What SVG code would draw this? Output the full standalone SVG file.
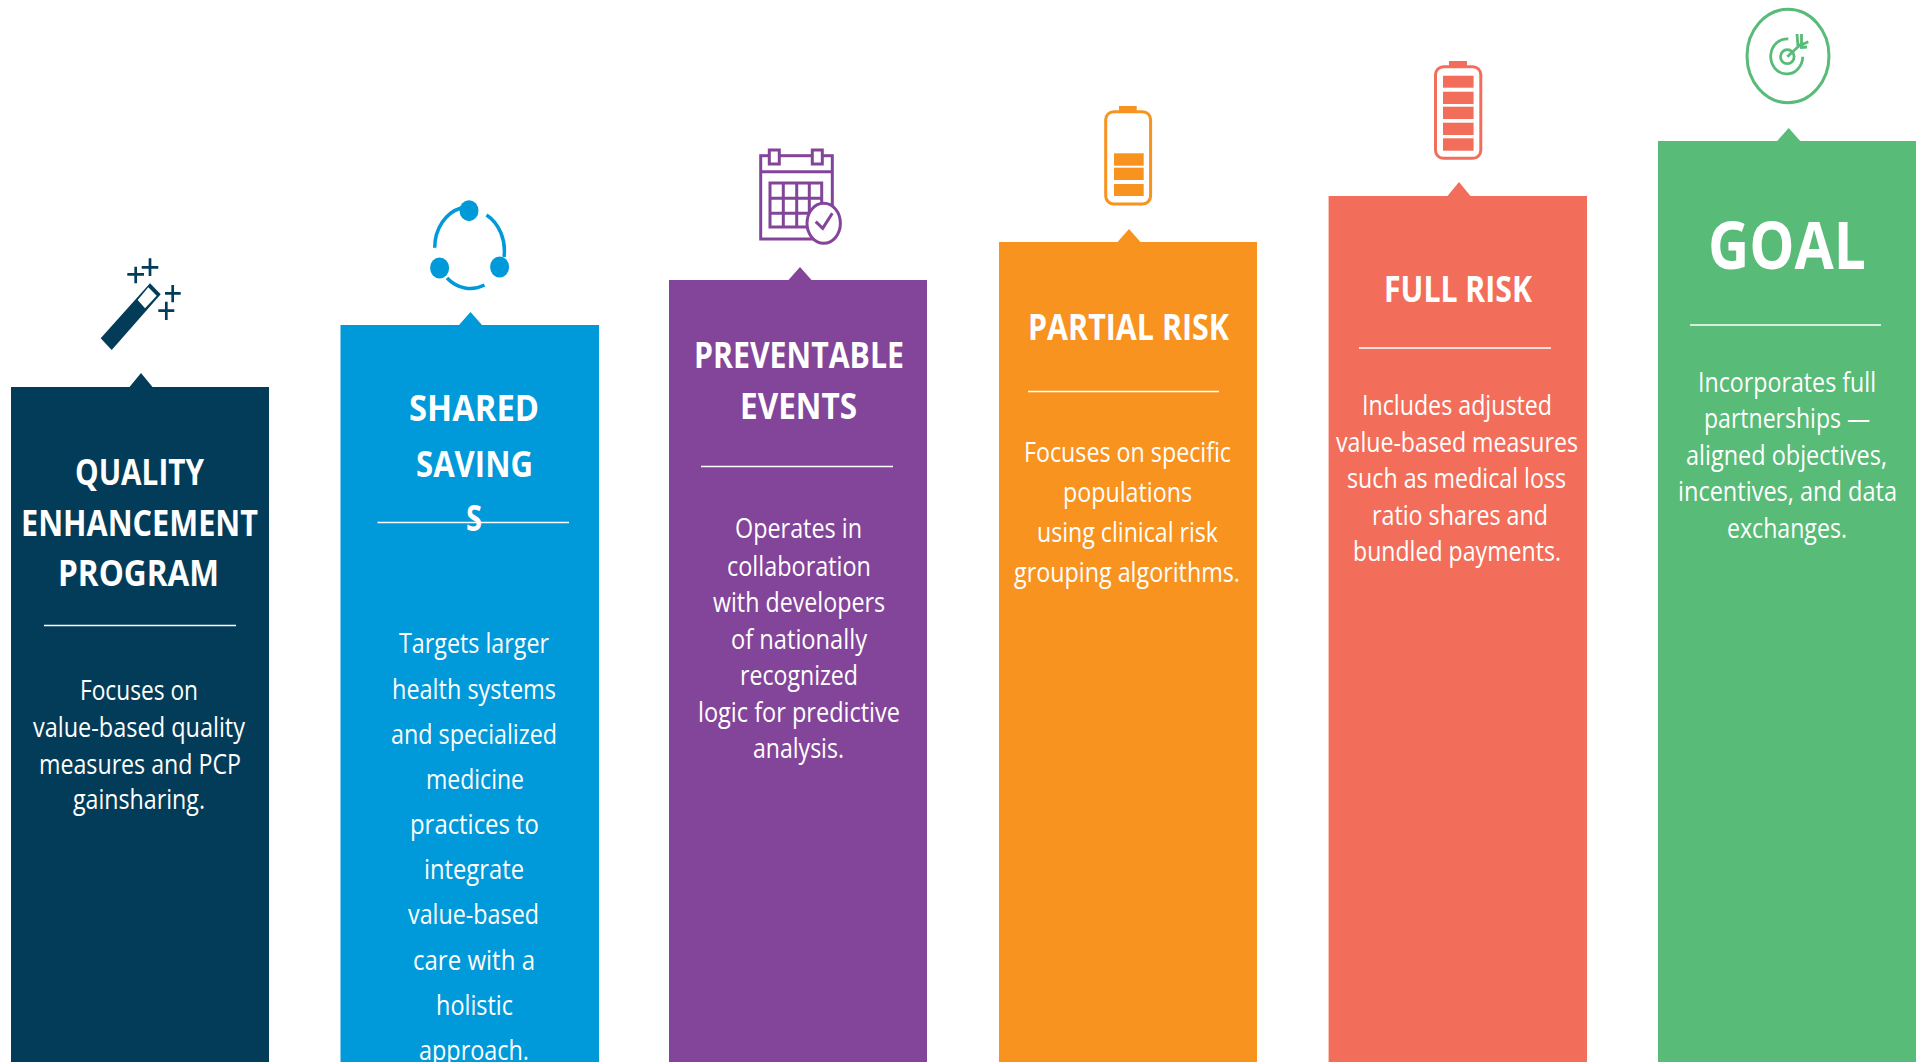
<svg xmlns="http://www.w3.org/2000/svg" width="1923" height="1062" viewBox="0 0 1923 1062">
<style>
text{font-family:"Open Sans","Noto Sans","Liberation Sans",sans-serif;fill:#fff}
.t{font-size:36px;font-weight:700}
.g{font-size:67px;font-weight:700}
.b{font-size:27px;font-weight:400}
.r{stroke:#fff;stroke-width:1.5;fill:none}
.navy{fill:#023c58}.blue{fill:#0099d9}.pur{fill:#834599}.org{fill:#f8931f}.cor{fill:#f36e5a}.grn{fill:#58bb77}
.snavy{stroke:#023c58;fill:none}.sblue{stroke:#0099d9;fill:none}.spur{stroke:#834599;fill:none}.sorg{stroke:#f8931f;fill:none}.scor{stroke:#f36e5a;fill:none}.sgrn{stroke:#58bb77;fill:none}
</style>
<rect width="1923" height="1062" fill="#fff"/>
<g id="node-quality">
<path class="navy" d="M11 387H129.500L141 373L152.500 387H269V1062H11Z"/>
<text class="t" x="75" y="485" textLength="129" lengthAdjust="spacingAndGlyphs">QUALITY</text>
<text class="t" x="21" y="536" textLength="237" lengthAdjust="spacingAndGlyphs">ENHANCEMENT</text>
<text class="t" x="58" y="586" textLength="161" lengthAdjust="spacingAndGlyphs">PROGRAM</text>
<path class="r" d="M44 625.500H236"/>
<text class="b" x="80" y="700" textLength="118" lengthAdjust="spacingAndGlyphs">Focuses on</text>
<text class="b" x="33" y="737" textLength="212" lengthAdjust="spacingAndGlyphs">value-based quality</text>
<text class="b" x="39" y="774" textLength="202" lengthAdjust="spacingAndGlyphs">measures and PCP</text>
<text class="b" x="73" y="809" textLength="132" lengthAdjust="spacingAndGlyphs">gainsharing.</text>
<path class="navy" d="M100.700 338.300L111.700 350L160.700 294.300L150 283.300Z"/>
<path fill="#fff" d="M148.300 287.300L156.700 295.700L145 308.300L137.700 300Z"/>
<g class="snavy" stroke-width="2.700"><path d="M127.300 274.300H144M135.700 266.700V283.300M141.700 267.300H158.300M150 258.300V276M165 293.300H180.700M172.700 285V302.300M158.300 310.700H174.300M166.300 301.700V320"/></g>
</g>
<g id="node-shared">
<path class="blue" d="M340.500 325H459L470.500 312L482 325H599V1062H340.500Z"/>
<text class="t" x="409" y="421" textLength="130" lengthAdjust="spacingAndGlyphs">SHARED</text>
<text class="t" x="416" y="477" textLength="117" lengthAdjust="spacingAndGlyphs">SAVING</text>
<text class="t" x="466" y="531" textLength="16" lengthAdjust="spacingAndGlyphs">S</text>
<path class="r" d="M377.500 522.500H569"/>
<text class="b" x="399" y="653" textLength="150" lengthAdjust="spacingAndGlyphs">Targets larger</text>
<text class="b" x="392" y="699" textLength="164" lengthAdjust="spacingAndGlyphs">health systems</text>
<text class="b" x="391" y="744" textLength="166" lengthAdjust="spacingAndGlyphs">and specialized</text>
<text class="b" x="426" y="789" textLength="98" lengthAdjust="spacingAndGlyphs">medicine</text>
<text class="b" x="410" y="834" textLength="129" lengthAdjust="spacingAndGlyphs">practices to</text>
<text class="b" x="424" y="879" textLength="100" lengthAdjust="spacingAndGlyphs">integrate</text>
<text class="b" x="408" y="924" textLength="131" lengthAdjust="spacingAndGlyphs">value-based</text>
<text class="b" x="413" y="970" textLength="122" lengthAdjust="spacingAndGlyphs">care with a</text>
<text class="b" x="436" y="1015" textLength="77" lengthAdjust="spacingAndGlyphs">holistic</text>
<text class="b" x="419" y="1060" textLength="110" lengthAdjust="spacingAndGlyphs">approach.</text>
<ellipse class="blue" cx="469" cy="210.700" rx="9.500" ry="10.500"/>
<ellipse class="blue" cx="499.600" cy="267" rx="9.500" ry="10.500"/>
<ellipse class="blue" cx="439.600" cy="268" rx="9.500" ry="10.500"/>
<path class="sblue" stroke-width="3.500" d="M434.700 247.700A35 41 0 0 1 461 208M486.500 215A35 41 0 0 1 504 257M447 278A35 41 0 0 0 484.500 285"/>
</g>
<g id="node-preventable">
<path class="pur" d="M669 280H788.500L800 267L811.500 280H927V1062H669Z"/>
<text class="t" x="694" y="368" textLength="210" lengthAdjust="spacingAndGlyphs">PREVENTABLE</text>
<text class="t" x="740" y="419" textLength="117" lengthAdjust="spacingAndGlyphs">EVENTS</text>
<path class="r" d="M701 466.500H893"/>
<text class="b" x="735" y="538" textLength="127" lengthAdjust="spacingAndGlyphs">Operates in</text>
<text class="b" x="727" y="576" textLength="144" lengthAdjust="spacingAndGlyphs">collaboration</text>
<text class="b" x="713" y="612" textLength="172" lengthAdjust="spacingAndGlyphs">with developers</text>
<text class="b" x="731" y="649" textLength="136" lengthAdjust="spacingAndGlyphs">of nationally</text>
<text class="b" x="740" y="685" textLength="118" lengthAdjust="spacingAndGlyphs">recognized</text>
<text class="b" x="698" y="722" textLength="202" lengthAdjust="spacingAndGlyphs">logic for predictive</text>
<text class="b" x="753" y="758" textLength="91" lengthAdjust="spacingAndGlyphs">analysis.</text>
<g class="spur" stroke-width="3">
<rect x="760.700" y="155.700" width="71.600" height="83.300"/>
<path d="M760.700 171.700H832.300"/>
<rect x="769.300" y="150" width="10" height="14" fill="#fff"/>
<rect x="812.300" y="150" width="10" height="14" fill="#fff"/>
<rect x="770" y="183" width="51.700" height="44"/>
<path d="M783.300 183V227M796.700 183V227M809.300 183V227M770 198.300H821.700M770 213.300H821.700"/>
<ellipse cx="823.700" cy="223.300" rx="16.700" ry="20" fill="#fff"/>
<path d="M815.700 221.700L822.700 228.300L832.300 213.300"/>
</g>
</g>
<g id="node-partial">
<path class="org" d="M999 242H1117.500L1129 229L1140.500 242H1257V1062H999Z"/>
<text class="t" x="1028" y="340" textLength="201" lengthAdjust="spacingAndGlyphs">PARTIAL RISK</text>
<path class="r" d="M1028 391.500H1219"/>
<text class="b" x="1024" y="462" textLength="207" lengthAdjust="spacingAndGlyphs">Focuses on specific</text>
<text class="b" x="1063" y="502" textLength="129" lengthAdjust="spacingAndGlyphs">populations</text>
<text class="b" x="1037" y="542" textLength="181" lengthAdjust="spacingAndGlyphs">using clinical risk</text>
<text class="b" x="1014" y="582" textLength="226" lengthAdjust="spacingAndGlyphs">grouping algorithms.</text>
<rect class="sorg" stroke-width="3" x="1105.700" y="111.700" width="44.900" height="92.300" rx="8"/>
<rect class="org" x="1119" y="106" width="17.700" height="6"/>
<rect class="org" x="1114" y="153.300" width="29.700" height="12.400"/>
<rect class="org" x="1114" y="167.700" width="29.700" height="12.300"/>
<rect class="org" x="1114" y="184" width="29.700" height="12"/>
</g>
<g id="node-full">
<path class="cor" d="M1328.600 196H1447.500L1459 182L1470.500 196H1587V1062H1328.600Z"/>
<text class="t" x="1384" y="302" textLength="148" lengthAdjust="spacingAndGlyphs">FULL RISK</text>
<path class="r" d="M1359 348H1551"/>
<text class="b" x="1362" y="415" textLength="190" lengthAdjust="spacingAndGlyphs">Includes adjusted</text>
<text class="b" x="1336" y="452" textLength="242" lengthAdjust="spacingAndGlyphs">value-based measures</text>
<text class="b" x="1347" y="488" textLength="219" lengthAdjust="spacingAndGlyphs">such as medical loss</text>
<text class="b" x="1372" y="525" textLength="176" lengthAdjust="spacingAndGlyphs">ratio shares and</text>
<text class="b" x="1353" y="561" textLength="208" lengthAdjust="spacingAndGlyphs">bundled payments.</text>
<rect class="scor" stroke-width="3" x="1435.500" y="66.700" width="45.300" height="91.600" rx="8"/>
<rect class="cor" x="1449" y="61" width="18" height="6"/>
<rect class="cor" x="1443" y="75.700" width="30.600" height="12"/>
<rect class="cor" x="1443" y="91.700" width="30.600" height="12.300"/>
<rect class="cor" x="1443" y="106.700" width="30.600" height="12.300"/>
<rect class="cor" x="1443" y="122.700" width="30.600" height="12.300"/>
<rect class="cor" x="1443" y="138.300" width="30.600" height="12.400"/>
</g>
<g id="node-goal">
<path class="grn" d="M1658 141H1777.200L1788.700 128L1800.200 141H1916V1062H1658Z"/>
<text class="g" x="1708" y="269" textLength="158" lengthAdjust="spacingAndGlyphs">GOAL</text>
<path class="r" d="M1690 325H1881"/>
<text class="b" x="1698" y="392" textLength="178" lengthAdjust="spacingAndGlyphs">Incorporates full</text>
<text class="b" x="1704" y="428" textLength="166" lengthAdjust="spacingAndGlyphs">partnerships —</text>
<text class="b" x="1686" y="465" textLength="201" lengthAdjust="spacingAndGlyphs">aligned objectives,</text>
<text class="b" x="1678" y="501" textLength="219" lengthAdjust="spacingAndGlyphs">incentives, and data</text>
<text class="b" x="1727" y="538" textLength="120" lengthAdjust="spacingAndGlyphs">exchanges.</text>
<ellipse class="sgrn" stroke-width="3" cx="1788" cy="56" rx="41" ry="46.700"/>
<g class="sgrn" stroke-width="2.800">
<path d="M1788.300 39A16 17.500 0 1 0 1802.700 56.700"/>
<ellipse cx="1787.300" cy="56.700" rx="6.800" ry="7"/>
<path d="M1787.300 56.700L1803 42.300M1797 34L1798 46.700M1801.500 34L1801.500 44M1808.300 41.700L1799 46M1807 47L1800 47.500"/>
</g>
</g>
</svg>
